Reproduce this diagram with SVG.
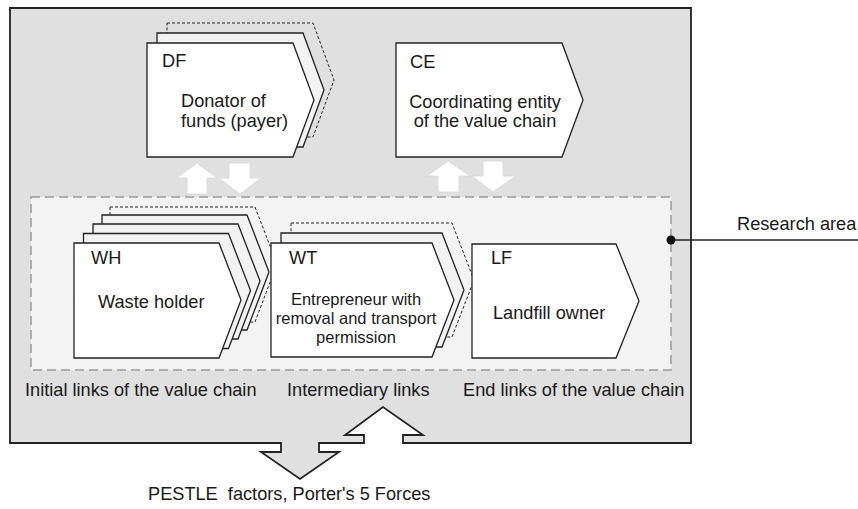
<svg xmlns="http://www.w3.org/2000/svg" width="858" height="509" viewBox="0 0 858 509">
  <style>
    text { font-family: "Liberation Sans", Arial, sans-serif; fill: #1a1a1a; font-size: 18.2px; }
    .small { font-size: 16.5px; }
    .node { fill: #ffffff; stroke: #222222; stroke-width: 1.3; stroke-linejoin: miter; }
    .layer { fill: #f2f2f2; stroke: #222222; stroke-width: 1.3; }
    .ghost { fill: none; stroke: #222222; stroke-width: 1; stroke-dasharray: 3 2; }
    .flow { fill: #ffffff; stroke: #d8d8d8; stroke-width: 0.8; }
  </style>
  <defs>
    <!-- chevron shapes, origin at top-left corner of the rectangular part -->
    <path id="chevDF" d="M0,0 H146 L167,57 L146,114 H0 Z"/>
    <path id="chevWH" d="M0,0 H145 L167,57 L145,115 H0 Z"/>
    <path id="chevWT" d="M0,0 H161 L183,57 L161,114 H0 Z"/>
  </defs>

  <!-- outer frame with the two PESTLE arrows cut into its bottom edge -->
  <path d="M10,8 H691 V443 H403 V435 H423 L383,407 L345,435 H364 V443 H319 V452 H339 L300,479 L261,452 H281 V443 H10 Z"
        fill="#e0e0e0" stroke="#222222" stroke-width="1.8" stroke-linejoin="miter"/>

  <!-- research area -->
  <rect x="31" y="197" width="640" height="173" fill="#f3f3f3" stroke="#9a9a9a" stroke-width="1.5" stroke-dasharray="9 5"/>

  <g id="connectors">
    <!-- exchange arrows between DF and the chain -->
    <path class="flow" d="M197,163 L217,178 H207 V194 H187 V178 H177 Z"/>
    <path class="flow" d="M229,163 H250 V178 H261 L240,194 L219,178 H229 Z"/>
    <!-- exchange arrows between CE and the chain -->
    <path class="flow" d="M448,161 L470,176 H459 V192 H438 V176 H427 Z"/>
    <path class="flow" d="M483,161 H503 V176 H515 L493,192 L472,176 H483 Z"/>
    <!-- research area callout -->
    <line x1="671" y1="240" x2="858" y2="240" stroke="#222222" stroke-width="1.3"/>
    <circle cx="671" cy="240" r="4.5" fill="#111111"/>
  </g>

  <g id="node-DF">
    <use href="#chevDF" class="ghost" x="167" y="23"/>
    <use href="#chevDF" class="layer" x="157" y="33"/>
    <use href="#chevDF" class="node" x="147" y="43"/>
    <text x="162" y="67">DF</text>
    <text x="181" y="107">Donator of</text>
    <text x="181" y="127">funds (payer)</text>
  </g>

  <g id="node-CE">
    <path class="node" d="M396,43 H562 L583,100 L562,157 H396 Z"/>
    <text x="410" y="68">CE</text>
    <text x="485" y="108" text-anchor="middle">Coordinating entity</text>
    <text x="485" y="127" text-anchor="middle">of the value chain</text>
  </g>

  <g id="node-WH">
    <use href="#chevWH" class="ghost" x="110" y="207"/>
    <use href="#chevWH" class="layer" x="102" y="215"/>
    <use href="#chevWH" class="layer" x="93" y="224"/>
    <use href="#chevWH" class="layer" x="83.5" y="233.5"/>
    <use href="#chevWH" class="node" x="74" y="243"/>
    <text x="91" y="264">WH</text>
    <text x="98" y="308">Waste holder</text>
  </g>

  <g id="node-WT">
    <use href="#chevWT" class="ghost" x="291" y="223"/>
    <use href="#chevWT" class="layer" x="281" y="233"/>
    <use href="#chevWT" class="node" x="271" y="243"/>
    <text x="289" y="264">WT</text>
    <text class="small" x="356" y="305" text-anchor="middle">Entrepreneur with</text>
    <text class="small" x="356" y="324" text-anchor="middle">removal and transport</text>
    <text class="small" x="356" y="343" text-anchor="middle">permission</text>
  </g>

  <g id="node-LF">
    <path class="node" d="M472,244 H616 L639,301 L616,358 H472 Z"/>
    <text x="491" y="264">LF</text>
    <text x="493" y="319">Landfill owner</text>
  </g>

  <g id="labels">
    <text x="737" y="230">Research area</text>
    <text x="25" y="396">Initial links of the value chain</text>
    <text x="287" y="396">Intermediary links</text>
    <text x="463" y="396">End links of the value chain</text>
    <text x="148" y="500" style="white-space:pre">PESTLE  factors, Porter's 5 Forces</text>
  </g>
</svg>
